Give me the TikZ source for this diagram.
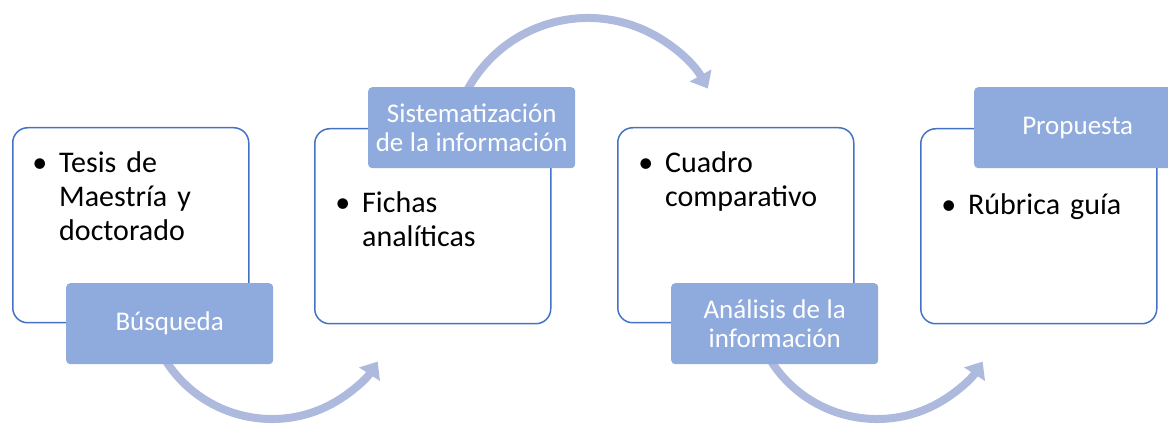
\documentclass[tikz,border=0pt]{standalone}
\usepackage{fontspec}
\setmainfont{Carlito}
\usetikzlibrary{arrows.meta}
\definecolor{boxblue}{HTML}{4472C4}
\definecolor{tagfill}{HTML}{8FAADC}
\definecolor{flowcol}{HTML}{ADBADE}
\newcommand{\tagfnt}{\fontsize{27}{29}\selectfont\spaceskip=6.5pt\relax}
\newcommand{\itemfnt}{\fontsize{30}{34}\selectfont\spaceskip=7pt\relax}
\begin{document}
\begin{tikzpicture}[x=1pt,y=-1pt,
  card/.style={draw=boxblue, line width=1.5pt, fill=white, rounded corners=15pt,
    minimum width=236pt, minimum height=195pt, anchor=north west, inner sep=0pt},
  tag/.style={fill=tagfill, rounded corners=4pt, minimum width=207pt, minimum height=81pt,
    anchor=north west, text=white, align=center, font=\tagfnt, inner sep=0pt},
  itemtext/.style={anchor=base west, align=left, font=\itemfnt,
    inner sep=0pt, text width=186pt},
  flow/.style={draw=flowcol, line width=8pt, -{Triangle[width=24pt,length=15pt]}}]
\useasboundingbox (0,0) rectangle (1168,427);
\newcommand{\bul}{\llap{\textbullet\hspace{12pt}}}
% arrows
\coordinate (c1) at (272,293);
\coordinate (c2) at (588,155);
\coordinate (c3) at (877,293);
\draw[flow] ([shift={(150:126)}]c1) arc[start angle=150, end angle=33, radius=126];
\draw[flow] ([shift={(205:137)}]c2) arc[start angle=205, end angle=331, radius=137];
\draw[flow] ([shift={(150:126)}]c3) arc[start angle=150, end angle=33, radius=126];
% cards
\node[card] (b1) at (12,127) {};
\node[card] (b2) at (314,128) {};
\node[card] (b3) at (617,127) {};
\node[card] (b4) at (920,128) {};
% tags
\node[tag] (l1) at (66,283) {Búsqueda};
\node[tag] (l2) at (368,87) {Sistematización\\de la información};
\node[tag] (l3) at (671,283) {Análisis de la\\información};
\node[tag] (l4) at (974,87) {Propuesta};
% texts
\node[itemtext] (t1) at (59,173) {\bul Tesis de\\Maestría y\\doctorado};
\node[itemtext] (t2) at (362,213) {\bul Fichas\\analíticas};
\node[itemtext] (t3) at (665,173) {\bul Cuadro\\comparativo};
\node[itemtext] (t4) at (968,215) {\bul Rúbrica guía};
\end{tikzpicture}
\end{document}
